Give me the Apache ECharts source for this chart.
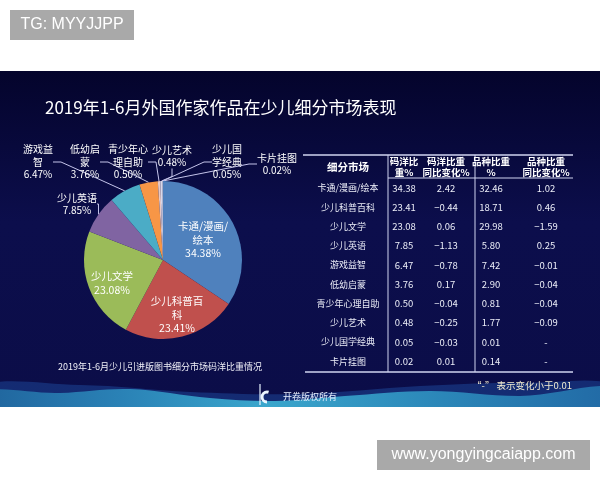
<!DOCTYPE html>
<html><head><meta charset="utf-8">
<script src="https://cdn.jsdelivr.net/npm/echarts@6/dist/echarts.min.js"></script>
<style>html,body{margin:0;padding:0;background:#fff}#c{width:600px;height:480px}</style>
</head><body><div id="c"></div>
<script>
// ---------- data ----------
const categories = ['卡通/漫画/绘本','少儿科普百科','少儿文学','少儿英语','游戏益智','低幼启蒙','青少年心理自助','少儿艺术','少儿国学经典','卡片挂图'];
const pieLabelNames = ['卡通/漫画/\n绘本','少儿科普百\n科','少儿文学','少儿英语','游戏益\n智','低幼启\n蒙','青少年心\n理自助','少儿艺术','少儿国\n学经典','卡片挂图'];
const mayangShare = [34.38,23.41,23.08,7.85,6.47,3.76,0.50,0.48,0.05,0.02];
const mayangChange = [2.42,-0.44,0.06,-1.13,-0.78,0.17,-0.04,-0.25,-0.03,0.01];
const varietyShare = [32.46,18.71,29.98,5.80,7.42,2.90,0.81,1.77,0.01,0.14];
const varietyChange = [1.02,0.46,-1.59,0.25,-0.01,-0.04,-0.04,-0.09,null,null];
const tableHeaders = ['细分市场','码洋比\n重%','码洋比重\n同比变化%','品种比重\n%','品种比重\n同比变化%'];
const titleText = '2019年1-6月外国作家作品在少儿细分市场表现';
const subTitleText = '2019年1-6月少儿引进版图书细分市场码洋比重情况';
const noteText = '“-” 表示变化小于0.01';
const copyrightText = '开卷版权所有';
const watermarkTop = 'TG: MYYJJPP';
const watermarkBottom = 'www.yongyingcaiapp.com';

// ---------- layout / style ----------
const pieColors = ['#4f81bd','#c0504d','#9bbb59','#8064a2','#4bacc6','#f79646','#e8c8c4','#d8d8ea','#c8d8f0','#e0e0f0'];
const labelPos = [[203,240],[177,315],[112,283],[77,204],[38,162],[85,162],[128,162],[172,156],[227,162],[277,164]];
const insideCount = 3;
const colX = [348,404,446,491,546];
const rowY0 = 188, rowStep = 19.25;
const CJK = '"Noto Sans CJK SC", sans-serif';
const fmt = v => v == null ? '-' : v.toFixed(2).replace('-', '\u2212');

const chart = echarts.init(document.getElementById('c'), null, {renderer: 'canvas'});

const g = [];
// panel
g.push({type:'rect', z:0, shape:{x:0,y:71,width:600,height:337},
  style:{fill:new echarts.graphic.LinearGradient(0,0,0,1,[
    {offset:0,color:'#04042c'},{offset:0.45,color:'#0c0e4c'},{offset:1,color:'#0b0d48'}])}});
// waves
g.push({type:'polygon', z:1, shape:{smooth:0.35, points:[[-30,389],[80,385],[190,392],[300,394],[420,386],[520,383],[630,389],[650,450],[-50,450]]},
  style:{fill:'rgba(30,70,150,0.55)'}});
g.push({type:'polygon', z:1, shape:{smooth:0.35, points:[[-30,395],[60,393],[130,389],[210,398],[275,401],[345,396],[430,391],[520,396],[630,390],[650,450],[-50,450]]},
  style:{fill:new echarts.graphic.LinearGradient(0,0,1,0,[
    {offset:0,color:'#1d5c96'},{offset:0.25,color:'#2a82b6'},{offset:0.45,color:'#3aa6cc'},{offset:0.7,color:'#2b86b8'},{offset:1,color:'#1f62a0'}])}});
// white outside panel
g.push({type:'rect', z:2, shape:{x:0,y:407,width:600,height:73}, style:{fill:'#ffffff'}});
// watermarks
g.push({type:'rect', z:3, shape:{x:10,y:10,width:124,height:30}, style:{fill:'#a9a9a9'}});
g.push({type:'text', z:4, x:72, y:25, style:{text:watermarkTop, fill:'#fff', font:'16px "Liberation Sans", Arial, sans-serif', align:'center', verticalAlign:'middle'}});
g.push({type:'rect', z:3, shape:{x:377,y:440,width:213,height:30}, style:{fill:'#a9a9a9'}});
g.push({type:'text', z:4, x:483.5, y:455, style:{text:watermarkBottom, fill:'#fff', font:'16px "Liberation Sans", Arial, sans-serif', align:'center', verticalAlign:'middle'}});
// subtitle, note, copyright
g.push({type:'text', z:3, x:160, y:367, style:{text:subTitleText, fill:'#f0f0f8', font:'9px '+CJK, align:'center', verticalAlign:'middle'}});
g.push({type:'text', z:3, x:572, y:385, style:{text:noteText, fill:'#f2ecd0', font:'9.5px '+CJK, align:'right', verticalAlign:'middle'}});
g.push({type:'line', z:3, shape:{x1:260,y1:384,x2:260,y2:405}, style:{stroke:'#e8f4ff', lineWidth:1.2}});
g.push({type:'arc', z:3, shape:{cx:267,cy:397,r:5,startAngle:Math.PI*0.5,endAngle:Math.PI*1.6}, style:{stroke:'#eaf6ff', lineWidth:3, fill:null}});
g.push({type:'text', z:3, x:283, y:397, style:{text:copyrightText, fill:'#e8f0ff', font:'9px '+CJK, align:'left', verticalAlign:'middle'}});
// table lines
const lineCol = '#d0d4f0';
g.push({type:'line', z:3, shape:{x1:303,y1:155,x2:573,y2:155}, style:{stroke:lineCol, lineWidth:1.5}});
g.push({type:'line', z:3, shape:{x1:388,y1:178,x2:573,y2:178}, style:{stroke:lineCol, lineWidth:1}});
g.push({type:'line', z:3, shape:{x1:388,y1:155,x2:388,y2:372}, style:{stroke:lineCol, lineWidth:1}});
g.push({type:'line', z:3, shape:{x1:475,y1:155,x2:475,y2:372}, style:{stroke:lineCol, lineWidth:1}});
g.push({type:'line', z:3, shape:{x1:305,y1:372,x2:573,y2:372}, style:{stroke:lineCol, lineWidth:1.5}});
// table headers
tableHeaders.forEach((h,i)=>{
  g.push({type:'text', z:3, x:colX[i], y:167, style:{text:h, fill:'#fff', font:'bold '+(i===0?'10.5px ':'9.5px ')+CJK, align:'center', verticalAlign:'middle', lineHeight:11}});
});
// table rows
categories.forEach((name,r)=>{
  const y = rowY0 + r*rowStep;
  const cells = [name, fmt(mayangShare[r]), fmt(mayangChange[r]), fmt(varietyShare[r]), fmt(varietyChange[r])];
  cells.forEach((t,i)=>{
    g.push({type:'text', z:3, x:colX[i], y:y, style:{text:t, fill:'#eceef8', font:(i===0?'9px ':'9.5px ')+CJK, align:'center', verticalAlign:'middle'}});
  });
});

const pieData = categories.map((name,i)=>{
  const item = {name:name, value:mayangShare[i], itemStyle:{color:pieColors[i]}};
  if (i < insideCount) {
    item.label = {position:'inside', fontSize:10.5, lineHeight:13.5};
    item.labelLine = {show:false};
  }
  return item;
});

chart.setOption({
  animation:false,
  backgroundColor:'#ffffff',
  title:{text:titleText, left:40, top:94, textStyle:{color:'#ffffff', fontSize:17, fontWeight:'normal', fontFamily:'Noto Sans CJK SC'}},
  graphic:{elements:g},
  series:[{
    type:'pie', z:5,
    center:[163,260], radius:79,
    startAngle:90, clockwise:true,
    avoidLabelOverlap:false,
    data:pieData,
    label:{show:true, position:'outside', color:'#ffffff', fontSize:10, lineHeight:12.5, align:'center', fontFamily:'Noto Sans CJK SC',
      formatter:p=>pieLabelNames[p.dataIndex]+'\n'+p.value.toFixed(2)+'%'},
    labelLine:{show:true, length:8, length2:8, lineStyle:{color:'#c4c4ea', width:1}},
    labelLayout:function(params){
      const p = labelPos[params.dataIndex];
      return {x:p[0], y:p[1], align:'center', verticalAlign:'middle', hideOverlap:false};
    },
    itemStyle:{borderWidth:0},
    emphasis:{disabled:true}
  }]
});
</script></body></html>
